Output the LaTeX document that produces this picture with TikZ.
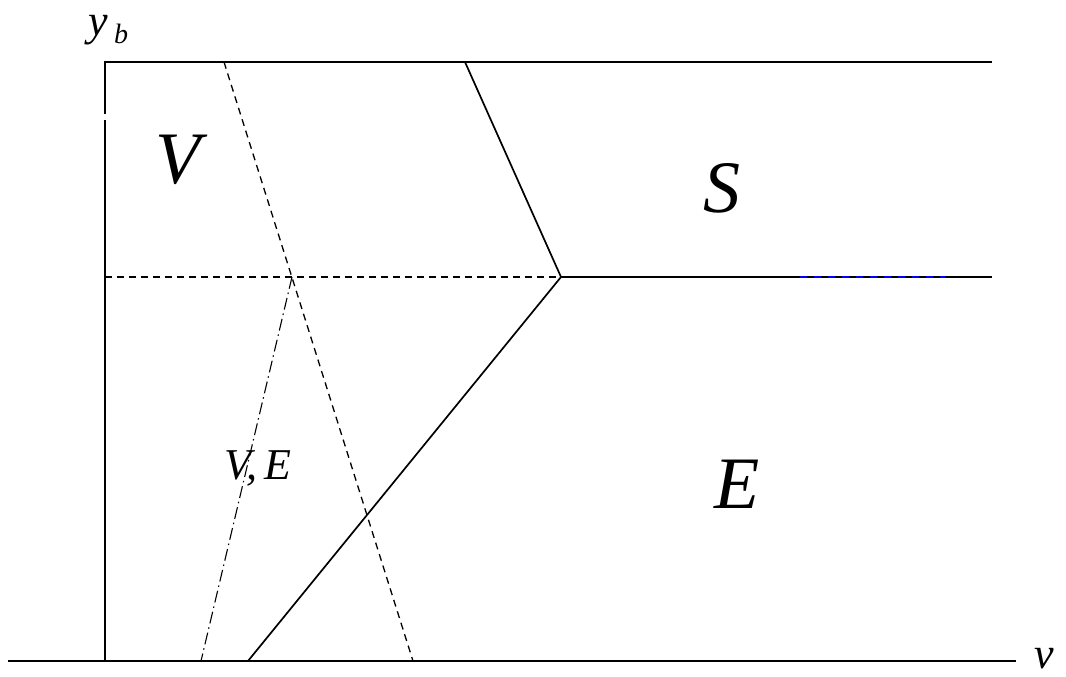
\documentclass[tikz,border=0pt]{standalone}
\usepackage{fontspec}
\setmainfont{Liberation Serif}
\usetikzlibrary{calc,intersections}
\begin{document}
\begin{tikzpicture}[x=1pt,y=-1pt,
  solidline/.style={line width=1.7pt},
  axisline/.style={line width=2.3pt},
  dashline/.style={line width=1.3pt,dash pattern=on 7pt off 5pt},
  dashdotline/.style={line width=1.1pt,dash pattern=on 12pt off 4pt on 1.5pt off 4pt},
  lbl/.style={inner sep=0pt,font=\itshape}]
\useasboundingbox (0,0) rectangle (1066,677);
% coordinates
\coordinate (O) at (105,661);
\coordinate (T) at (105,62);
\coordinate (TR) at (992,62);
\coordinate (BL) at (8,661);
\coordinate (BR) at (1016,661);
\coordinate (ML) at (105,277);
\coordinate (P) at (561,277);
\coordinate (MR) at (992,277);
\coordinate (Q) at (465,62);
\coordinate (R) at (248,661);
\coordinate (D1) at (224,62);
\coordinate (D2) at (413,661);
\coordinate (X) at (292,277);
\coordinate (DD) at (201,661);
\coordinate (B1) at (800,277);
\coordinate (B2) at (945,277);
\coordinate (G1) at (105,114);
\coordinate (G2) at (105,120);
% axes
\draw[axisline] (BL) -- (BR);
\draw[solidline] (O) -- (G2);
\draw[solidline] (G1) -- (T) -- (TR);
% middle line
\draw[dashline] (ML) -- (P);
\draw[solidline] (P) -- (MR);
\draw[line width=1.6pt,blue,dash pattern=on 7pt off 7pt] (B1) -- (B2);
% boundaries
\draw[solidline] (Q) -- (P) -- (R);
\draw[dashline] (D1) -- (D2);
\draw[dashdotline] (X) -- (DD);
% labels
\node[lbl,anchor=base west,font=\itshape\fontsize{44}{44}\selectfont] (yb) at (88,36) {y};
\node[lbl,anchor=base west,font=\itshape\fontsize{28}{28}\selectfont] (ybsub) at (114,44) {b};
\node[lbl,anchor=base west,font=\itshape\fontsize{44}{44}\selectfont] (vlab) at (1034,668) {v};
\node[lbl,font=\itshape\fontsize{74}{74}\selectfont] (Vlab) at (178,160) {V};
\node[lbl,font=\itshape\fontsize{74}{74}\selectfont] (Slab) at (722,188) {S};
\node[lbl,font=\itshape\fontsize{74}{74}\selectfont] (Elab) at (737,484) {E};
\node[lbl,font=\itshape\fontsize{44}{44}\selectfont] (VElab) at (258,468) {V,\,E};
\end{tikzpicture}
\end{document}
